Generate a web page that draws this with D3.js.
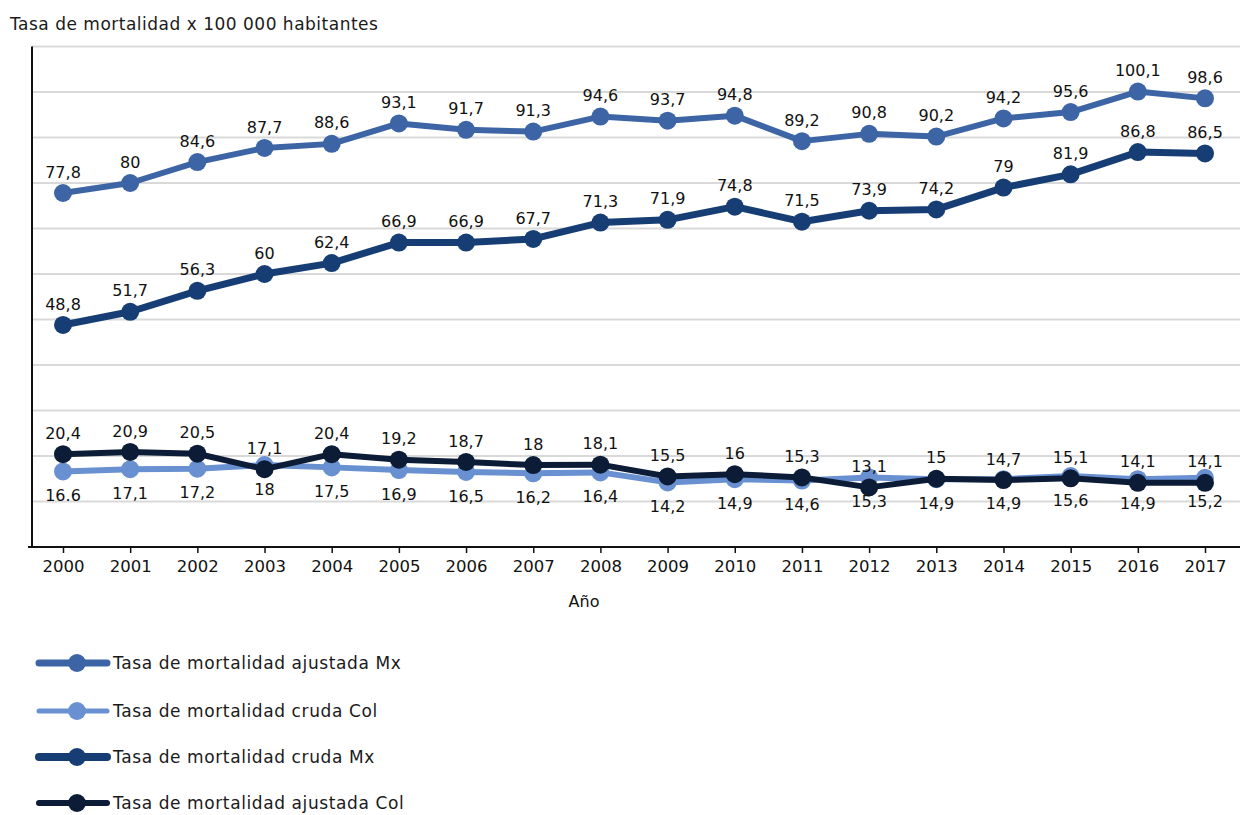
<!DOCTYPE html>
<html>
<head>
<meta charset="utf-8">
<script src="https://cdn.jsdelivr.net/npm/d3@7/dist/d3.min.js"></script>
<style>
  html, body { margin: 0; padding: 0; background: #fff; }
  svg { display: block; }
</style>
</head>
<body>
<svg id="chart" width="1247" height="815"></svg>
<script>
// ---- Data ----
const years = ["2000","2001","2002","2003","2004","2005","2006","2007","2008","2009","2010","2011","2012","2013","2014","2015","2016","2017"];

const ajustadaMx = [77.8, 80, 84.6, 87.7, 88.6, 93.1, 91.7, 91.3, 94.6, 93.7, 94.8, 89.2, 90.8, 90.2, 94.2, 95.6, 100.1, 98.6];
const crudaMx    = [48.8, 51.7, 56.3, 60, 62.4, 66.9, 66.9, 67.7, 71.3, 71.9, 74.8, 71.5, 73.9, 74.2, 79, 81.9, 86.8, 86.5];
const crudaCol   = [16.6, 17.1, 17.2, 18, 17.5, 16.9, 16.5, 16.2, 16.4, 14.2, 14.9, 14.6, 15.3, 14.9, 14.9, 15.6, 14.9, 15.2];
const ajustadaCol= [20.4, 20.9, 20.5, 17.1, 20.4, 19.2, 18.7, 18, 18.1, 15.5, 16, 15.3, 13.1, 15, 14.7, 15.1, 14.1, 14.1];

const crudaColLabels = ["16.6","17,1","17,2","18","17,5","16,9","16,5","16,2","16,4","14,2","14,9","14,6","15,3","14,9","14,9","15,6","14,9","15,2"];

const gridValues = [10,20,30,40,50,60,70,80,90,100,110];

const seriesNames = ["Tasa de mortalidad ajustada Mx","Tasa de mortalidad cruda Col","Tasa de mortalidad cruda Mx","Tasa de mortalidad ajustada Col"];

const titleText = "Tasa de mortalidad x 100 000 habitantes";
const xAxisTitle = "Año";

// ---- Setup ----
const svg = d3.select("#chart");
const fmt = v => String(v).replace(".", ",");
const labelFont = "'DejaVu Sans', Verdana, sans-serif";
const textFont = "'DejaVu Sans', Verdana, sans-serif";

const x = d3.scalePoint().domain(years).range([63, 1205]);
const y = d3.scaleLinear().domain([0, 110]).range([547, 46.5]);

const axisLeft = 32, axisRight = 1240;

const series = [
  { name: seriesNames[0], values: ajustadaMx, color: "#3d65a5", width: 6, r: 9, labels: ajustadaMx.map(fmt), pos: "above" },
  { name: seriesNames[2], values: crudaMx, color: "#173e74", width: 7, r: 9, labels: crudaMx.map(fmt), pos: "above" },
  { name: seriesNames[1], values: crudaCol, color: "#6990d1", width: 6, r: 9, labels: crudaColLabels, pos: "below" },
  { name: seriesNames[3], values: ajustadaCol, color: "#0c1c36", width: 6, r: 9, labels: ajustadaCol.map(fmt), pos: "above" }
];

// Title
svg.append("text")
  .attr("x", 10).attr("y", 30)
  .attr("font-family", textFont)
  .attr("font-size", 17)
  .attr("letter-spacing", 0.5)
  .attr("fill", "#1a1a1a")
  .text(titleText);

// Gridlines
svg.append("g").selectAll("line").data(gridValues).join("line")
  .attr("x1", axisLeft).attr("x2", axisRight)
  .attr("y1", d => y(d)).attr("y2", d => y(d))
  .attr("stroke", "#d9d9d9").attr("stroke-width", 2);

// Y axis line
svg.append("line")
  .attr("x1", axisLeft).attr("x2", axisLeft)
  .attr("y1", y(110)).attr("y2", y(0))
  .attr("stroke", "#111").attr("stroke-width", 2);

// X axis
const xAxis = d3.axisBottom(x).tickSize(6).tickPadding(7);
const gx = svg.append("g").attr("transform", `translate(0,${y(0)})`).call(xAxis);
gx.select(".domain").attr("d", `M${axisLeft - 4},0H${axisRight}`).attr("stroke", "#111").attr("stroke-width", 2);
gx.selectAll(".tick line").attr("stroke", "#111").attr("stroke-width", 1.5);
gx.selectAll(".tick text")
  .attr("font-family", labelFont)
  .attr("font-size", 16.5)
  .attr("fill", "#111");

// X axis title
svg.append("text")
  .attr("x", 584).attr("y", 607)
  .attr("text-anchor", "middle")
  .attr("font-family", labelFont)
  .attr("font-size", 16)
  .attr("fill", "#111")
  .text(xAxisTitle);

// Lines and markers
const line = d3.line().x((d, i) => x(years[i])).y(d => y(d));

series.forEach(s => {
  const g = svg.append("g");
  g.append("path")
    .attr("d", line(s.values))
    .attr("fill", "none")
    .attr("stroke", s.color)
    .attr("stroke-width", s.width)
    .attr("stroke-linejoin", "round");
  g.selectAll("circle").data(s.values).join("circle")
    .attr("cx", (d, i) => x(years[i]))
    .attr("cy", d => y(d))
    .attr("r", s.r)
    .attr("fill", s.color);
});

// Labels
series.forEach(s => {
  svg.append("g").selectAll("text").data(s.values).join("text")
    .attr("x", (d, i) => x(years[i]))
    .attr("y", d => y(d) + (s.pos === "above" ? -21 : 24))
    .attr("dy", "0.35em")
    .attr("text-anchor", "middle")
    .attr("font-family", labelFont)
    .attr("font-size", 16)
    .attr("fill", "#111")
    .text((d, i) => s.labels[i]);
});

// Legend
const legendItems = [
  { name: seriesNames[0], color: "#3d65a5", width: 7, y: 663 },
  { name: seriesNames[1], color: "#6990d1", width: 5, y: 711 },
  { name: seriesNames[2], color: "#173e74", width: 8, y: 757 },
  { name: seriesNames[3], color: "#0c1c36", width: 6, y: 803 }
];
const lg = svg.append("g");
legendItems.forEach(it => {
  lg.append("line")
    .attr("x1", 39).attr("x2", 107)
    .attr("y1", it.y).attr("y2", it.y)
    .attr("stroke", it.color).attr("stroke-width", it.width)
    .attr("stroke-linecap", "round");
  lg.append("circle")
    .attr("cx", 77).attr("cy", it.y).attr("r", 9)
    .attr("fill", it.color);
  lg.append("text")
    .attr("x", 113).attr("y", it.y)
    .attr("dy", "0.35em")
    .attr("font-family", textFont)
    .attr("font-size", 17)
    .attr("letter-spacing", 0.6)
    .attr("fill", "#1a1a1a")
    .text(it.name);
});
</script>
</body>
</html>
